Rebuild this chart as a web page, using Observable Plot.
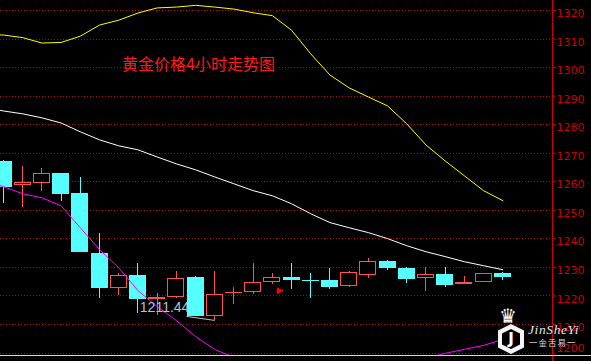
<!DOCTYPE html>
<html>
<head>
<meta charset="utf-8">
<script src="https://cdn.jsdelivr.net/npm/d3@7"></script>
<script src="https://cdn.jsdelivr.net/npm/@observablehq/plot@0.6"></script>
<style>
  html, body { margin: 0; padding: 0; background: #000; }
  #wrap { position: relative; width: 591px; height: 361px; overflow: hidden; background: #000; }
  #wrap svg { position: absolute; left: 0; top: 0; }
  #title { position: absolute; left: 122px; top: 54px; color: #ff1a1a; font: 16px/18px "Noto Sans CJK SC", sans-serif; white-space: nowrap; }
  .crown { position: absolute; left: 499px; top: 306px; color: #fff; font: 20px/20px "DejaVu Sans"; }
  .hex { position: absolute; left: 498px; top: 324px; width: 26px; height: 30px; background: #f4f4f4;
         clip-path: polygon(50% 0, 100% 22%, 100% 78%, 50% 100%, 0 78%, 0 22%); }
  .hexin { position: absolute; left: 4px; top: 5px; width: 18px; height: 20px; background: #000;
           clip-path: polygon(50% 0, 100% 22%, 100% 78%, 50% 100%, 0 78%, 0 22%);
           color: #fff; font: bold 15px/20px "DejaVu Sans"; text-align: center; }
  .brand { position: absolute; left: 528px; top: 322px; color: #e6e6e6; font: italic 13.5px/15px "Liberation Serif", serif; letter-spacing: 0.6px; white-space: nowrap; }
  .brandcn { position: absolute; left: 529px; top: 338px; color: #dcdcdc; font: 8.5px/9px "Noto Sans CJK SC", sans-serif; letter-spacing: 1px; white-space: nowrap; }
</style>
</head>
<body>
<div id="wrap">
  <div id="title">黄金价格4小时走势图</div>
</div>
<script>
// ---- data ----
const opens  = [1267.0,1258.6,1259.3,1262.8,1255.8,1234.8,1222.6,1227.1,1218.7,1219.4,1226.4,1212.8,1220.8,1221.2,1224.7,1226.4,1225.4,1225.4,1223.3,1227.1,1232.0,1229.6,1226.1,1227.5,1224.0,1224.7,1227.8];
const highs  = [1267.3,1265.2,1264.5,1262.8,1261.4,1241.8,1227.8,1231.3,1220.8,1228.5,1226.8,1228.5,1222.9,1231.3,1227.8,1231.3,1227.8,1229.6,1228.5,1233.1,1232.4,1229.9,1229.9,1229.9,1226.8,1227.8,1228.2];
const lows   = [1252.3,1250.9,1256.5,1253.0,1235.2,1219.1,1220.1,1213.8,1213.1,1219.2,1212.8,1211.44,1217.0,1220.5,1224.0,1222.2,1219.1,1222.2,1222.9,1226.1,1228.9,1224.3,1221.5,1222.9,1224.0,1224.7,1225.4];
const closes = [1257.9,1259.7,1262.8,1255.5,1235.2,1222.6,1227.1,1218.7,1219.4,1226.1,1212.8,1220.5,1221.2,1224.7,1226.4,1225.4,1225.3,1222.9,1228.2,1232.0,1229.6,1225.7,1227.5,1223.6,1224.7,1227.8,1226.4];

// band lines (first value belongs to the bar just left of the visible window)
const lineIdx = [-1,0,1,2,3,4,5,6,7,8,9,10,11,12,13,14,15,16,17,18,19,20,21,22,23,24,25,26];
const upperBand = [1311.6,1311.4,1310.5,1308.6,1308.8,1311.0,1314.9,1316.6,1319.1,1320.9,1321.2,1321.8,1321.2,1320.5,1319.2,1318.2,1313.1,1304.8,1297.4,1292.9,1289.7,1286.6,1280.3,1272.9,1267.3,1262.1,1256.9,1253.4];
const middleBand = [1286.0,1284.8,1283.8,1282.4,1280.6,1277.5,1274.7,1272.6,1271.2,1268.7,1266.3,1264.2,1261.7,1259.3,1256.9,1255.1,1252.3,1248.8,1245.7,1243.9,1242.2,1240.1,1237.6,1235.5,1233.8,1232.0,1230.6,1229.2];
const lowerBand = [1260.5,1258.3,1255.8,1254.4,1251.6,1243.9,1236.2,1229.9,1221.9,1216.3,1211.4,1205.8,1201.3,1198.5,1194.6,1192.0,1191.8,1192.8,1194.0,1194.9,1194.7,1193.6,1194.9,1198.1,1199.9,1201.3,1202.7,1204.8];

const yTicks = [1200,1210,1220,1230,1240,1250,1260,1270,1280,1290,1300,1310,1320];

const markIdx = [14.4];
const markPrice = [1222.1];

// ---- styling ----
const RED = "#ff5050", CYAN = "#55ffff", AXIS = "#c80000";
const xDomain = [-0.156, 28.59];
const yDomain = [1199.15, 1323.5];
const pxPerY = 355 / (yDomain[1] - yDomain[0]);
const pxPerX = 552 / (xDomain[1] - xDomain[0]);
const hw = 0.443;

const candles = opens.map((o, i) => ({i, o, h: highs[i], l: lows[i], c: closes[i], up: closes[i] >= opens[i]}));
const ups = candles.filter(d => d.up), downs = candles.filter(d => !d.up);
const band = (arr) => arr.map((v, k) => ({i: lineIdx[k], v}));

const lowVal = d3.min(lows);
const lowIdx = lows.indexOf(lowVal);

const chart = Plot.plot({
  width: 591, height: 361,
  marginLeft: 0, marginRight: 39, marginTop: 0, marginBottom: 6,
  x: {domain: xDomain, axis: null},
  y: {domain: yDomain, axis: null},
  style: {background: "#000", color: AXIS, fontFamily: "DejaVu Sans", fontSize: "11px"},
  marks: [
    Plot.ruleY(yTicks, {stroke: "#c00000", strokeDasharray: "1,2", shapeRendering: "crispEdges"}),
    // wicks
    Plot.ruleX(ups, {x: "i", y1: "l", y2: "h", stroke: RED, clip: true, shapeRendering: "crispEdges"}),
    Plot.ruleX(downs, {x: "i", y1: "l", y2: "h", stroke: CYAN, clip: true, shapeRendering: "crispEdges"}),
    // bodies
    Plot.rect(downs, {x1: d => d.i - hw, x2: d => d.i + hw, y1: "o", y2: "c", fill: CYAN, clip: true, shapeRendering: "crispEdges"}),
    Plot.rect(ups, {x1: d => d.i - hw, x2: d => d.i + hw, y1: "o", y2: "c", fill: "#000", stroke: RED, inset: 0.5, clip: true, shapeRendering: "crispEdges"}),
    Plot.ruleY(downs, {y: "o", x1: d => d.i - hw, x2: d => d.i + hw, stroke: CYAN, clip: true, shapeRendering: "crispEdges"}),
    Plot.ruleY(ups, {y: "c", x1: d => d.i - hw, x2: d => d.i + hw, stroke: RED, clip: true, shapeRendering: "crispEdges"}),
    // bands
    Plot.line(band(upperBand), {x: "i", y: "v", stroke: "#ffff00", strokeWidth: 1, clip: true}),
    Plot.line(band(middleBand), {x: "i", y: "v", stroke: "#ffffff", strokeWidth: 1, clip: true}),
    Plot.line(band(lowerBand), {x: "i", y: "v", stroke: "#ff00ff", strokeWidth: 1, clip: true}),
    // lowest price marker
    Plot.link([lowVal], {x1: () => lowIdx - 1.47, y1: d => d + 1.4, x2: () => lowIdx, y2: d => d, stroke: "#c0c0c0"}),
    Plot.text([lowVal], {x: () => lowIdx - 3.9, y: d => d + 4.4, text: d => d.toFixed(2), textAnchor: "start",
      fill: "#b8c0ca", fontSize: 14, fontFamily: "'Liberation Sans Narrow', 'Liberation Sans', sans-serif"}),
    // trade arrow
    Plot.text(markIdx, {x: d => d, y: (d, k) => markPrice[k], text: () => "▶", fill: "#ff0000", fontSize: 9}),
    // right axis line and bottom line
    Plot.ruleX([xDomain[1]], {y1: yDomain[0] - 6 / pxPerY, y2: yDomain[1], stroke: "#d00000", shapeRendering: "crispEdges"}),
    Plot.ruleY([yDomain[0]], {x1: xDomain[0], x2: xDomain[1] + 39 / pxPerX, stroke: "#d8d8d8", shapeRendering: "crispEdges"}),
    // right axis ticks (labels drawn separately)
    Plot.axisY({anchor: "right", ticks: yTicks, tickSize: 3, tickFormat: () => "", stroke: AXIS}),
    Plot.text(yTicks.filter(t => t > 1200), {y: d => d, frameAnchor: "right", dx: 4, dy: 3, textAnchor: "start",
      text: d => String(d), fill: AXIS, fontSize: 11, fontFamily: "DejaVu Sans"}),
    Plot.text(yTicks.filter(t => t === 1200), {y: d => d, frameAnchor: "right", dx: 4, dy: -5, textAnchor: "start",
      text: d => String(d), fill: AXIS, fontSize: 11, fontFamily: "DejaVu Sans"})
  ]
});

const wrap = document.getElementById("wrap");
wrap.insertBefore(chart, wrap.firstChild);

// watermark logo
const logo = document.createElement("div");
logo.innerHTML = '<div class="crown">♛</div><div class="hex"><div class="hexin">J</div></div>' +
                 '<div class="brand">JinSheYi</div><div class="brandcn">一金舌易一</div>';
wrap.appendChild(logo);
</script>
</body>
</html>
